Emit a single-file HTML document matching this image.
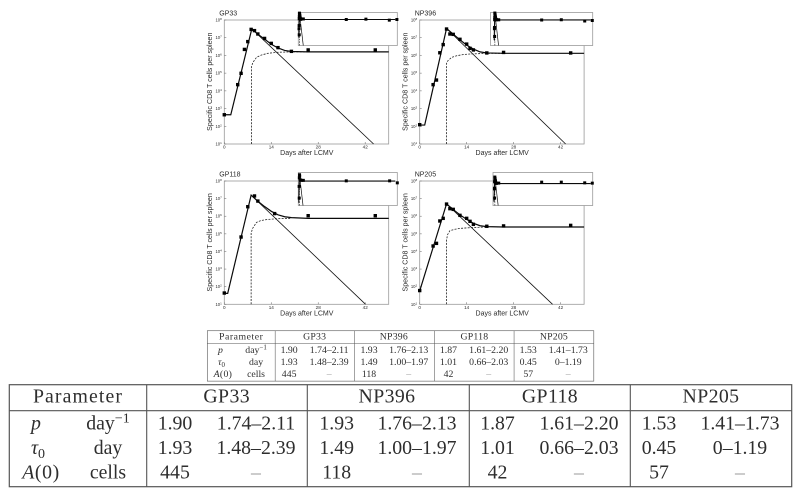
<!DOCTYPE html>
<html lang="en">
<head>
<meta charset="utf-8">
<title>CD8 T cell kinetics</title>
<style>
html,body{margin:0;padding:0;background:#fff;}
svg{display:block;}
text{font-family:"Liberation Sans",sans-serif;fill:#2a2a2a;}
.tb text{font-family:"Liberation Serif",serif;fill:#2e2e2e;text-anchor:middle;}
.soft{filter:blur(0.35px);}
</style>
</head>
<body>
<svg id="root" xmlns="http://www.w3.org/2000/svg" width="800" height="497" viewBox="0 0 800 497"></svg>
<script>
// ---- Shared axis labels ----
const xTickDays = [0, 14, 28, 42];
const yTickExps = [1, 2, 3, 4, 5, 6, 7, 8];

// ---- GP33 ----
const gp33Days = [0, 4, 5, 6, 7, 8, 9, 10, 12, 14, 16, 20, 25, 45];
const gp33Log = [2.65, 4.35, 4.99, 6.34, 6.78, 7.47, 7.40, 7.21, 6.96, 6.68, 6.44, 6.23, 6.31, 6.31];
const gp33TotalDays = [0, 1.93, 8.2, 10, 12, 14, 16, 18, 20, 25, 49];
const gp33TotalLog = [2.65, 2.65, 7.5, 7.2, 6.92, 6.63, 6.42, 6.28, 6.22, 6.2, 6.2];
const gp33DecayDays = [8.2, 44.5];
const gp33DecayLog = [7.5, 1];
const gp33MemoryDays = [8.1, 8.1, 8.5, 9.6, 11, 13, 16, 20, 25];
const gp33MemoryLog = [1, 5.36, 5.6, 5.89, 6.02, 6.12, 6.18, 6.2, 6.2];
const gp33InsetDays = [6, 454, 641, 864, 936];
const gp33InsetLog = [3.14, 6.2, 6.27, 6.07, 6.2];

// ---- NP396 ----
const np396Days = [0, 4, 5, 6, 7, 8, 9, 10, 12, 14, 15, 16, 20, 25, 45];
const np396Log = [2.09, 4.35, 4.61, 6.15, 6.61, 7.49, 7.21, 7.19, 6.91, 6.64, 6.40, 6.31, 6.14, 6.17, 6.14];
const np396TotalDays = [0, 1.49, 8, 10, 12, 14, 16, 18, 20, 25, 49];
const np396TotalLog = [2.07, 2.07, 7.52, 7.2, 6.88, 6.58, 6.36, 6.2, 6.14, 6.12, 6.12];
const np396DecayDays = [8, 43.5];
const np396DecayLog = [7.52, 1];
const np396MemoryDays = [8, 8, 8.4, 9.5, 11, 13, 15, 20, 25];
const np396MemoryLog = [1, 5.55, 5.7, 5.89, 5.98, 6.05, 6.08, 6.12, 6.12];
const np396InsetDays = [6, 454, 641, 864, 936];
const np396InsetLog = [2.8, 6.1, 6.15, 5.9, 6.0];

// ---- GP118 ----
const gp118Days = [0, 5, 7, 9, 10, 15, 25, 45];
const gp118Log = [1.64, 4.82, 6.54, 7.15, 6.86, 6.15, 6.03, 6.03];
const gp118TotalDays = [0, 1.01, 8, 10, 12, 14, 16, 18, 20, 25, 49];
const gp118TotalLog = [1.62, 1.62, 7.2, 6.85, 6.55, 6.28, 6.08, 5.97, 5.92, 5.88, 5.88];
const gp118DecayDays = [8, 42.1];
const gp118DecayLog = [7.2, 1];
const gp118MemoryDays = [8, 8, 8.4, 9.6, 11, 13, 16, 20];
const gp118MemoryLog = [1, 5.03, 5.3, 5.65, 5.76, 5.82, 5.86, 5.88];
const gp118InsetDays = [6, 454, 867, 940];
const gp118InsetLog = [2.48, 5.93, 5.93, 5.53];

// ---- NP205 ----
const np205Days = [0, 4, 5, 6, 7, 8, 9, 10, 12, 14, 15, 16, 20, 25, 45];
const np205Log = [1.78, 4.31, 4.46, 5.73, 5.88, 6.69, 6.43, 6.39, 6.05, 5.88, 5.71, 5.54, 5.43, 5.45, 5.48];
const np205TotalDays = [0, 8, 10, 12, 14, 16, 18, 20, 25, 49];
const np205TotalLog = [1.76, 6.7, 6.38, 6.08, 5.82, 5.6, 5.46, 5.41, 5.39, 5.39];
const np205DecayDays = [8, 39.6];
const np205DecayLog = [6.7, 1];
const np205MemoryDays = [8, 8, 8.3, 9, 10.5, 12, 15, 20];
const np205MemoryLog = [1, 4.65, 4.95, 5.18, 5.26, 5.31, 5.35, 5.39];
const np205InsetDays = [6, 454, 641, 864, 936];
const np205InsetLog = [2.48, 5.67, 5.67, 5.53, 5.47];

// ---- Parameter table ----
const tableHeads = ["Parameter", "GP33", "NP396", "GP118", "NP205"];
const tableEstimates = [
  ["1.90", "1.93", "1.87", "1.53"],
  ["1.93", "1.49", "1.01", "0.45"],
  ["445", "118", "42", "57"]
];
const tableRanges = [
  ["1.74–2.11", "1.76–2.13", "1.61–2.20", "1.41–1.73"],
  ["1.48–2.39", "1.00–1.97", "0.66–2.03", "0–1.19"],
  ["–", "–", "–", "–"]
];

const NS = "http://www.w3.org/2000/svg";
const root = document.getElementById("root");

function add(parent, tag, attrs, txt) {
  const el = document.createElementNS(NS, tag);
  for (const k in attrs) el.setAttribute(k, attrs[k]);
  if (txt !== undefined) el.textContent = txt;
  parent.appendChild(el);
  return el;
}

function pathOf(days, logs, fx, fy) {
  return days.map((d, i) => (i ? "L" : "M") + fx(d).toFixed(2) + " " + fy(logs[i]).toFixed(2)).join("");
}

function drawPanel(cfg) {
  const xS = d => cfg.x0 + d * 3.355;
  const yS = l => cfg.bottom - (l - 1) * (cfg.bottom - cfg.top) / 7;
  const right = xS(49);

  const g = add(root, "g", { class: "soft" });
  
  

  const frame = add(g, "rect", { x: cfg.x0, y: cfg.top, width: right - cfg.x0, height: cfg.bottom - cfg.top, fill: "none", stroke: "#9a9a9a", "stroke-width": 0.8 });
  
  

  xTickDays.forEach(d => {
    const t = add(g, "line", { x1: xS(d), x2: xS(d), y1: cfg.bottom, y2: cfg.bottom - 2, stroke: "#777", "stroke-width": 0.6 });
    
    
    const lb = add(g, "text", { x: xS(d), y: cfg.bottom + 4.5, "font-size": 4.6, "text-anchor": "middle" }, String(d));
    
    
  });
  yTickExps.forEach(e => {
    const t = add(g, "line", { x1: cfg.x0, x2: cfg.x0 + 2, y1: yS(e), y2: yS(e), stroke: "#777", "stroke-width": 0.6 });
    
    
    const lb = add(g, "text", { x: cfg.x0 - 2.5, y: yS(e) + 1.5, "font-size": 4.2, "text-anchor": "end" });
    
    
    add(lb, "tspan", {}, "10");
    add(lb, "tspan", { dy: -1.5, "font-size": 3 }, String(e));
  });

  const decay = add(g, "path", { d: pathOf(cfg.decayDays, cfg.decayLog, xS, yS), fill: "none", stroke: "#111", "stroke-width": 0.8 });
  
  
  const mem = add(g, "path", { d: pathOf(cfg.memDays, cfg.memLog, xS, yS), fill: "none", stroke: "#222", "stroke-width": 0.8, "stroke-dasharray": "2 1.3" });
  
  
  const total = add(g, "path", { d: pathOf(cfg.totDays, cfg.totLog, xS, yS), fill: "none", stroke: "#0a0a0a", "stroke-width": 1.2 });
  
  

  cfg.days.forEach((d, i) => {
    const m = add(g, "rect", { x: xS(d) - 1.7, y: yS(cfg.log[i]) - 1.7, width: 3.4, height: 3.4, fill: "#000" });
    
    
  });

  const title = add(g, "text", { x: cfg.x0 - 5, y: cfg.top - 4.3, "font-size": 7 }, cfg.title);
  
  
  const xt = add(g, "text", { x: cfg.x0 + 82.5, y: cfg.bottom + 11, "font-size": 7, "text-anchor": "middle" }, "Days after LCMV");
  
  
  const yx = cfg.x0 - 12.3, yy = (cfg.top + cfg.bottom) / 2 - 0.3;
  const yt = add(g, "text", { x: yx, y: yy, "font-size": 7.1, "text-anchor": "middle", transform: "rotate(-90 " + yx + " " + yy + ")" }, "Specific CD8 T cells per spleen");
  
  

  // Inset: long-term view on a compressed time axis
  const ig = add(g, "g", {});
  
  
  const iLeft = cfg.boxLeft, iRight = cfg.boxRight, iTop = cfg.boxTop, iBot = cfg.boxTop + 33;
  const ix0 = cfg.x0 + 74.3;
  const xI = d => ix0 + d * 0.105;
  const yI = l => iBot - (l - 1) * 5;
  const box = add(ig, "rect", { x: iLeft, y: iTop, width: iRight - iLeft, height: iBot - iTop, fill: "#fff", stroke: "#9a9a9a", "stroke-width": 0.8 });
  
  
  const clip = add(ig, "clipPath", { id: "clip-" + cfg.key });
  add(clip, "rect", { x: iLeft, y: iTop, width: iRight - iLeft, height: iBot - iTop });
  const ic = add(ig, "g", { "clip-path": "url(#clip-" + cfg.key + ")" });
  const iDecay = add(ic, "path", { d: pathOf(cfg.decayDays, cfg.decayLog, xI, yI), fill: "none", stroke: "#111", "stroke-width": 0.7 });
  
  
  const iMem = add(ic, "path", { d: pathOf(cfg.memDays, cfg.memLog, xI, yI), fill: "none", stroke: "#333", "stroke-width": 0.7, "stroke-dasharray": "1.6 1" });
  
  
  const lastLog = cfg.totLog[cfg.totLog.length - 1];
  const iTotal = add(ic, "path", { d: pathOf(cfg.totDays, cfg.totLog, xI, yI) + "L" + (iRight - 2) + " " + yI(lastLog).toFixed(2), fill: "none", stroke: "#0a0a0a", "stroke-width": 1.1 });
  
  
  cfg.days.forEach((d, i) => {
    if (d < 4) return;
    const m = add(ig, "rect", { x: xI(d) - 1.5, y: yI(cfg.log[i]) - 1.5, width: 3, height: 3, fill: "#000" });
    
    
  });
  cfg.insetDays.forEach((d, i) => {
    const m = add(ig, "rect", { x: xI(d) - 1.5, y: yI(cfg.insetLog[i]) - 1.5, width: 3, height: 3, fill: "#000" });
    
    
  });
}

drawPanel({ key: "gp33", title: "GP33", x0: 224.3, top: 20, bottom: 144, boxLeft: 298.3, boxRight: 397.3, boxTop: 12.5,
  days: gp33Days, log: gp33Log, totDays: gp33TotalDays, totLog: gp33TotalLog, decayDays: gp33DecayDays, decayLog: gp33DecayLog, memDays: gp33MemoryDays, memLog: gp33MemoryLog, insetDays: gp33InsetDays, insetLog: gp33InsetLog });
drawPanel({ key: "np396", title: "NP396", x0: 419.7, top: 20, bottom: 144, boxLeft: 490.5, boxRight: 592.7, boxTop: 12.5,
  days: np396Days, log: np396Log, totDays: np396TotalDays, totLog: np396TotalLog, decayDays: np396DecayDays, decayLog: np396DecayLog, memDays: np396MemoryDays, memLog: np396MemoryLog, insetDays: np396InsetDays, insetLog: np396InsetLog });
drawPanel({ key: "gp118", title: "GP118", x0: 224.3, top: 181, bottom: 304.3, boxLeft: 298.3, boxRight: 397.3, boxTop: 172.5,
  days: gp118Days, log: gp118Log, totDays: gp118TotalDays, totLog: gp118TotalLog, decayDays: gp118DecayDays, decayLog: gp118DecayLog, memDays: gp118MemoryDays, memLog: gp118MemoryLog, insetDays: gp118InsetDays, insetLog: gp118InsetLog });
drawPanel({ key: "np205", title: "NP205", x0: 419.7, top: 181, bottom: 304.3, boxLeft: 493, boxRight: 592.7, boxTop: 172.5,
  days: np205Days, log: np205Log, totDays: np205TotalDays, totLog: np205TotalLog, decayDays: np205DecayDays, decayLog: np205DecayLog, memDays: np205MemoryDays, memLog: np205MemoryLog, insetDays: np205InsetDays, insetLog: np205InsetLog });

function drawTable(name, tx, ty, s) {
  const g = add(root, "g", { class: "tb", transform: "translate(" + tx + " " + ty + ") scale(" + s + ")" });
  
  
  const L = 9.3, R = 791.7, T = 384.7, H = 410.7, B = 486.7;
  const fs = 19.8;
  const border = add(g, "rect", { x: L, y: T, width: R - L, height: B - T, fill: "none", stroke: "#555", "stroke-width": 1.2 });
  
  
  const hr = add(g, "line", { x1: L, x2: R, y1: H, y2: H, stroke: "#555", "stroke-width": 1.1 });
  
  
  [146.7, 307.3, 469.3, 630.3].forEach(x => {
    const v = add(g, "line", { x1: x, x2: x, y1: T, y2: B, stroke: "#555", "stroke-width": 1.1 });
    
    
  });
  [78, 226.7, 387, 550, 711].forEach((x, i) => {
    const t = add(g, "text", { x: x, y: 402.7, "font-size": fs, "letter-spacing": i === 0 ? 1.1 : 0.4 }, tableHeads[i]);
    
    
  });
  const rowY = [429.3, 454, 478.7];
  const estX = [175, 336.7, 497.5, 659];
  const rngX = [256, 417, 579, 740];
  rowY.forEach((y, r) => {
    estX.forEach((x, c) => {
      const t = add(g, "text", { x: x, y: y, "font-size": fs }, tableEstimates[r][c]);
      
      
    });
    rngX.forEach((x, c) => {
      const t = add(g, "text", { x: x, y: y, "font-size": fs, style: r === 2 ? "fill:#999" : "" }, tableRanges[r][c]);
      
      
    });
  });
  const p = add(g, "text", { x: 36, y: rowY[0], "font-size": fs, "font-style": "italic" }, "p");
  
  
  const tau = add(g, "text", { x: 38, y: rowY[1], "font-size": fs });
  
  
  add(tau, "tspan", { "font-style": "italic" }, "τ");
  add(tau, "tspan", { dy: 4, "font-size": 14 }, "0");
  const a0 = add(g, "text", { x: 41, y: rowY[2], "font-size": fs, "letter-spacing": 0.6 });
  
  
  add(a0, "tspan", { "font-style": "italic" }, "A");
  add(a0, "tspan", {}, "(0)");
  const u1 = add(g, "text", { x: 108, y: rowY[0], "font-size": fs });
  
  
  add(u1, "tspan", {}, "day");
  add(u1, "tspan", { dy: -7, "font-size": 14 }, "−1");
  const u2 = add(g, "text", { x: 108, y: rowY[1], "font-size": fs }, "day");
  
  
  const u3 = add(g, "text", { x: 108, y: rowY[2], "font-size": fs }, "cells");
  
  
}

drawTable("parameter-table-small", 202.7, 140.7, 0.494);
drawTable("parameter-table-large", 0, 0, 1);
</script>
</body>
</html>
